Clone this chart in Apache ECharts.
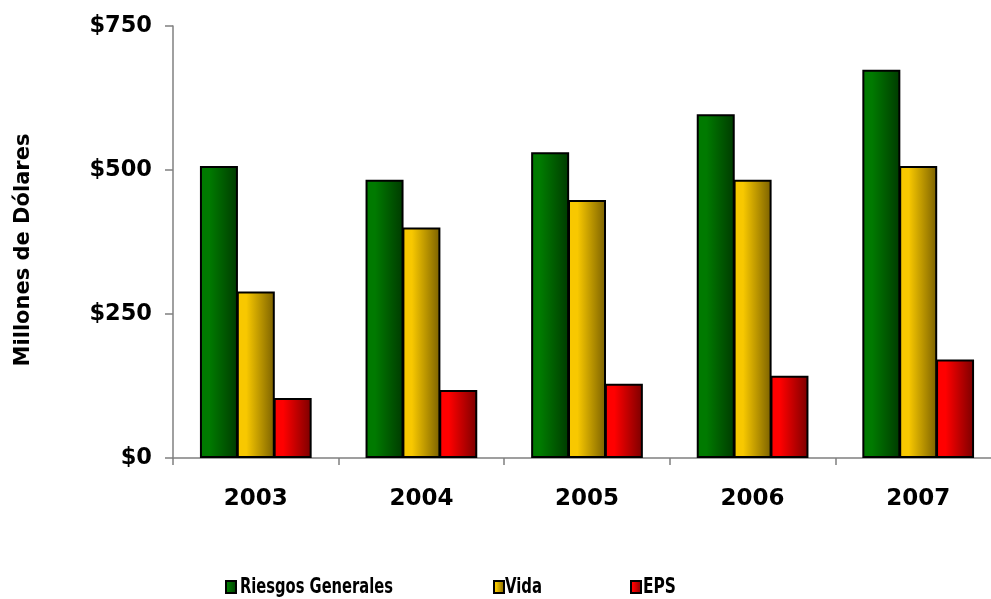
<!DOCTYPE html>
<html><head><meta charset="utf-8">
<script src="https://cdn.jsdelivr.net/npm/echarts@6/dist/echarts.min.js"></script>
<style>html,body{margin:0;padding:0;background:#fff}#c{width:991px;height:599px}</style>
</head><body><div id="c"></div>
<script>
const categories = ['2003','2004','2005','2006','2007'];
const seriesNames = ['Riesgos Generales', 'Vida', 'EPS'];
const riesgos = [507, 483, 531, 597, 674];
const vida = [289, 400, 448, 483, 507];
const eps = [104, 118, 129, 143, 171];
const yTicks = [0, 250, 500, 750];

function grad(a, b) {
  return new echarts.graphic.LinearGradient(0, 0, 1, 0, [{offset:0,color:a},{offset:0.25,color:a},{offset:1,color:b}]);
}
const font = 'DejaVu Sans';
const chart = echarts.init(document.getElementById('c'), null, {renderer:'canvas'});
function mkSeries(name, data, c1, c2) {
  return {name, type:'bar', data, barWidth:38, barGap:'-3%',
    itemStyle:{color:grad(c1,c2), borderColor:'#000', borderWidth:2}};
}
// legend: icons from the legend component, labels as condensed text
const legendFont = '"DejaVu Sans Condensed", "DejaVu Sans", sans-serif';
const legendSize = 22;
const mctx = document.createElement('canvas').getContext('2d');
mctx.font = 'bold ' + legendSize + 'px ' + legendFont;
const legendLeft = [225, 493, 630];
const legendTextX = [240, 505, 643];
const legendTextW = [153, 37, 33];
const lg = {itemWidth:10, itemHeight:12, itemGap:0, icon:'rect', top:580, padding:0,
  formatter:()=>'', textStyle:{fontSize:1, padding:0}};
const graphics = seriesNames.map((n, i) => {
  const w = mctx.measureText(n).width;
  return {type:'text', x:legendTextX[i], y:587, scaleX:legendTextW[i]/w, scaleY:1,
    style:{text:n, font:'bold ' + legendSize + 'px ' + legendFont, fill:'#000', verticalAlign:'middle', align:'left'}};
});
chart.setOption({
  animation:false,
  grid:{left:173, top:26, width:828, height:432, outerBoundsMode:'none', containLabel:false},
  legend: seriesNames.map((n, i) => Object.assign({data:[n], left:legendLeft[i]}, lg)),
  graphic: graphics,
  xAxis:{type:'category', data:categories,
    axisLine:{lineStyle:{color:'#808080', width:1.5}},
    axisTick:{show:true, length:7, lineStyle:{color:'#808080', width:1.5}},
    axisLabel:{fontFamily:font, fontWeight:'bold', fontSize:23, color:'#000', margin:30}},
  yAxis:{type:'value', min:yTicks[0], max:yTicks[yTicks.length-1], interval:250,
    name:'Millones de Dólares', nameLocation:'middle', nameGap:139, nameRotate:90,
    nameTextStyle:{fontFamily:font, fontWeight:'bold', fontSize:21, color:'#000', padding:[0,16,0,0]},
    axisLine:{show:true, lineStyle:{color:'#808080', width:1.5}},
    axisTick:{show:true, length:8, lineStyle:{color:'#808080', width:1.5}},
    splitLine:{show:false},
    axisLabel:{fontFamily:font, fontWeight:'bold', fontSize:22.5, color:'#000', margin:21,
      formatter:v=>'$'+v}},
  series:[
    mkSeries(seriesNames[0], riesgos, '#007a00', '#003a00'),
    mkSeries(seriesNames[1], vida, '#f8c800', '#7a6000'),
    mkSeries(seriesNames[2], eps, '#ff0000', '#7a0000')
  ]
});
</script></body></html>
